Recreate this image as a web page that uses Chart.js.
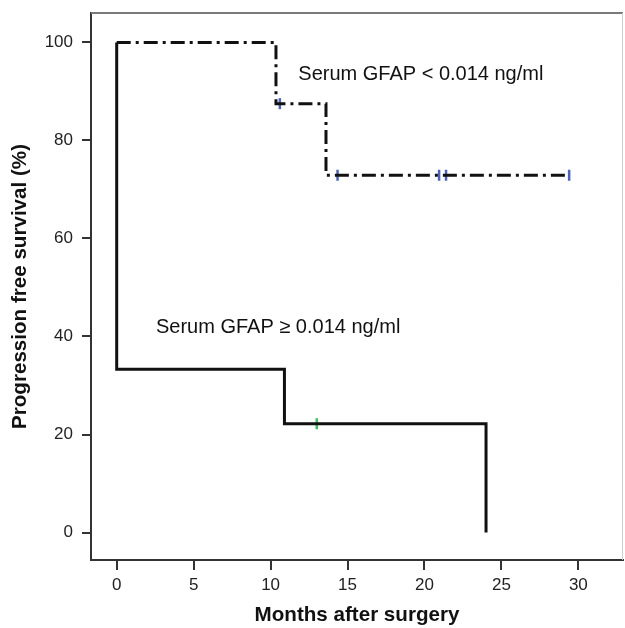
<!DOCTYPE html>
<html>
<head>
<meta charset="utf-8">
<title>Progression free survival by serum GFAP</title>
<script src="https://cdn.jsdelivr.net/npm/chart.js@4.4.1/dist/chart.umd.min.js"></script>
<style>
    html, body { margin: 0; padding: 0; background: #fff; overflow: hidden; }
    #chartBox { width: 625px; height: 628px; }
    canvas { display: block; }
</style>
</head>
<body>
<div id="chartBox"><canvas id="kmChart" width="625" height="628"></canvas></div>
<script>
// Kaplan-Meier data (months, percent)
const lowTimes = [0, 10.35, 13.6, 29.4];
const lowSurvival = [100, 87.5, 72.9, 72.9];
const lowCensorTimes = [10.6, 14.35, 20.95, 21.4, 29.4];
const lowCensorSurvival = [87.5, 72.9, 72.9, 72.9, 72.9];

const highTimes = [0, 0, 10.9, 24];
const highSurvival = [100, 33.3, 22.2, 0];
const highCensorTimes = [13.0];
const highCensorSurvival = [22.2];

const xTickValues = [0, 5, 10, 15, 20, 25, 30];
const yTickValues = [0, 20, 40, 60, 80, 100];

const groupLabels = ['Serum GFAP < 0.014 ng/ml', 'Serum GFAP \u2265 0.014 ng/ml'];
const labelAnchorX = [11.8, 2.55];
const labelAnchorY = [93.4, 41.8];

const FONT = "'Liberation Sans', Arial, Helvetica, sans-serif";

function toPoints(xs, ys) {
    return xs.map((x, i) => ({ x: x, y: ys[i] }));
}

// Draws the top/right sides of the box and the two group labels
const framePlugin = {
    id: 'frameAndLabels',
    afterDraw(chart) {
        const ctx = chart.ctx;
        const a = chart.chartArea;
        ctx.save();
        ctx.strokeStyle = '#7a7a7a';
        ctx.lineWidth = 2;
        ctx.beginPath();
        ctx.moveTo(a.left, a.top);
        ctx.lineTo(a.right, a.top);
        ctx.stroke();
        ctx.strokeStyle = '#d0d0d0';
        ctx.lineWidth = 1;
        ctx.beginPath();
        ctx.moveTo(a.right - 0.5, a.top);
        ctx.lineTo(a.right - 0.5, a.bottom);
        ctx.stroke();

        const xs = chart.scales.x;
        const ys = chart.scales.y;
        ctx.fillStyle = '#111';
        ctx.font = '20px ' + FONT;
        ctx.textBaseline = 'middle';
        ctx.textAlign = 'left';
        groupLabels.forEach((text, i) => {
            ctx.fillText(text, xs.getPixelForValue(labelAnchorX[i]), ys.getPixelForValue(labelAnchorY[i]));
        });
        ctx.restore();
    }
};

// Fixed axis sizes, and no extra room for edge labels
function fixXAxis(scale) {
    scale.height = 68;
    scale.paddingLeft = 0;
    scale.paddingRight = 0;
}

function fixYAxis(scale) {
    scale.width = 91;
    scale.paddingTop = 0;
    scale.paddingBottom = 0;
}

function buildChart() {
    const ctx = document.getElementById('kmChart');
    new Chart(ctx, {
        type: 'scatter',
        data: {
            datasets: [
                {
                    label: 'low',
                    data: toPoints(lowTimes, lowSurvival),
                    showLine: true,
                    stepped: true,
                    borderColor: '#111',
                    borderWidth: 3,
                    borderDash: [14, 5, 3, 5],
                    pointRadius: 0,
                    fill: false
                },
                {
                    label: 'high',
                    data: toPoints(highTimes, highSurvival),
                    showLine: true,
                    stepped: true,
                    borderColor: '#111',
                    borderWidth: 3,
                    pointRadius: 0,
                    fill: false
                },
                {
                    label: 'low censored',
                    data: toPoints(lowCensorTimes, lowCensorSurvival),
                    showLine: false,
                    pointStyle: 'line',
                    rotation: 90,
                    pointRadius: 5.5,
                    borderWidth: 2.5,
                    borderColor: '#4a62c6'
                },
                {
                    label: 'high censored',
                    data: toPoints(highCensorTimes, highCensorSurvival),
                    showLine: false,
                    pointStyle: 'line',
                    rotation: 90,
                    pointRadius: 5.5,
                    borderWidth: 2.5,
                    borderColor: '#3cc05a'
                }
            ]
        },
        options: {
            responsive: false,
            animation: false,
            layout: { autoPadding: false, padding: { left: 0, right: 2, top: 13, bottom: 0 } },
            plugins: {
                legend: { display: false },
                tooltip: { enabled: false }
            },
            scales: {
                x: {
                    type: 'linear',
                    min: -1.67,
                    max: 32.9,
                    afterBuildTicks: scale => { scale.ticks = xTickValues.map(v => ({ value: v })); },
                    afterFit: fixXAxis,
                    grid: { drawOnChartArea: false, drawTicks: true, tickLength: 10, color: '#333', lineWidth: 2 },
                    border: { display: true, color: '#333', width: 2 },
                    ticks: { color: '#222', font: { family: FONT, size: 17 }, padding: 5, maxRotation: 0 },
                    title: {
                        display: true,
                        text: 'Months after surgery',
                        color: '#111',
                        font: { family: FONT, size: 20.6, weight: 'bold' },
                        padding: { top: 0, bottom: 0 }
                    }
                },
                y: {
                    type: 'linear',
                    min: -5.6,
                    max: 106,
                    afterBuildTicks: scale => { scale.ticks = yTickValues.map(v => ({ value: v })); },
                    afterFit: fixYAxis,
                    grid: { drawOnChartArea: false, drawTicks: true, tickLength: 9, color: '#333', lineWidth: 2 },
                    border: { display: true, color: '#333', width: 2 },
                    ticks: { color: '#222', font: { family: FONT, size: 17 }, padding: 9 },
                    title: {
                        display: true,
                        text: 'Progression free survival (%)',
                        color: '#111',
                        font: { family: FONT, size: 20.6, weight: 'bold' },
                        padding: { top: 8, bottom: 0 }
                    }
                }
            }
        },
        plugins: [framePlugin]
    });
}

document.addEventListener('DOMContentLoaded', function() {
    buildChart();
});
</script>
</body>
</html>
